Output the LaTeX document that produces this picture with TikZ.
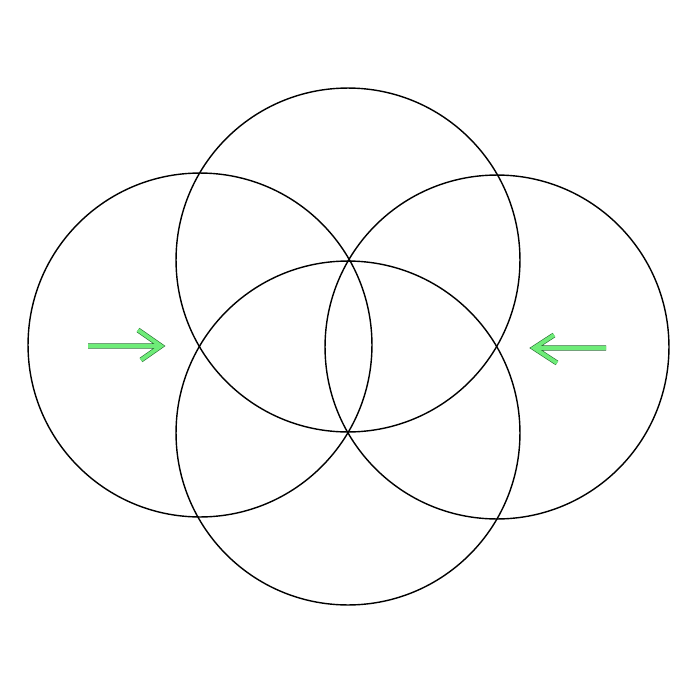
\documentclass[tikz,border=0pt]{standalone}
\definecolor{arrowgreen}{RGB}{110,236,120}
\definecolor{arrowedge}{RGB}{40,110,50}
\tikzstyle{ring} = [circle, draw=black, line width=0.8pt, inner sep=0pt, minimum size=6.88cm]
\tikzstyle{pointer} = [draw=arrowgreen, line width=2.2pt, line join=miter, preaction={draw=arrowedge, line width=2.9pt}]

\begin{document}
\begin{tikzpicture}[x=0.02cm, y=-0.02cm]
    \useasboundingbox (0,0) rectangle (700,700);
    \node (top) [ring] at (348,260) {};
    \node (bottom) [ring] at (348,433) {};
    \node (left) [ring] at (200,345) {};
    \node (right) [ring] at (497,347) {};

    \coordinate (lstart) at (88,346);
    \coordinate (ltip) at (161,346);
    \coordinate (lup) at (138,330);
    \coordinate (ldown) at (141,360);
    \coordinate (rstart) at (606,348);
    \coordinate (rtip) at (534,348);
    \coordinate (rup) at (554,335);
    \coordinate (rdown) at (557,363);
    \draw [pointer] (lstart) -- (ltip) (lup) -- (ltip) -- (ldown);
    \draw [pointer] (rstart) -- (rtip) (rup) -- (rtip) -- (rdown);
\end{tikzpicture}
\end{document}
